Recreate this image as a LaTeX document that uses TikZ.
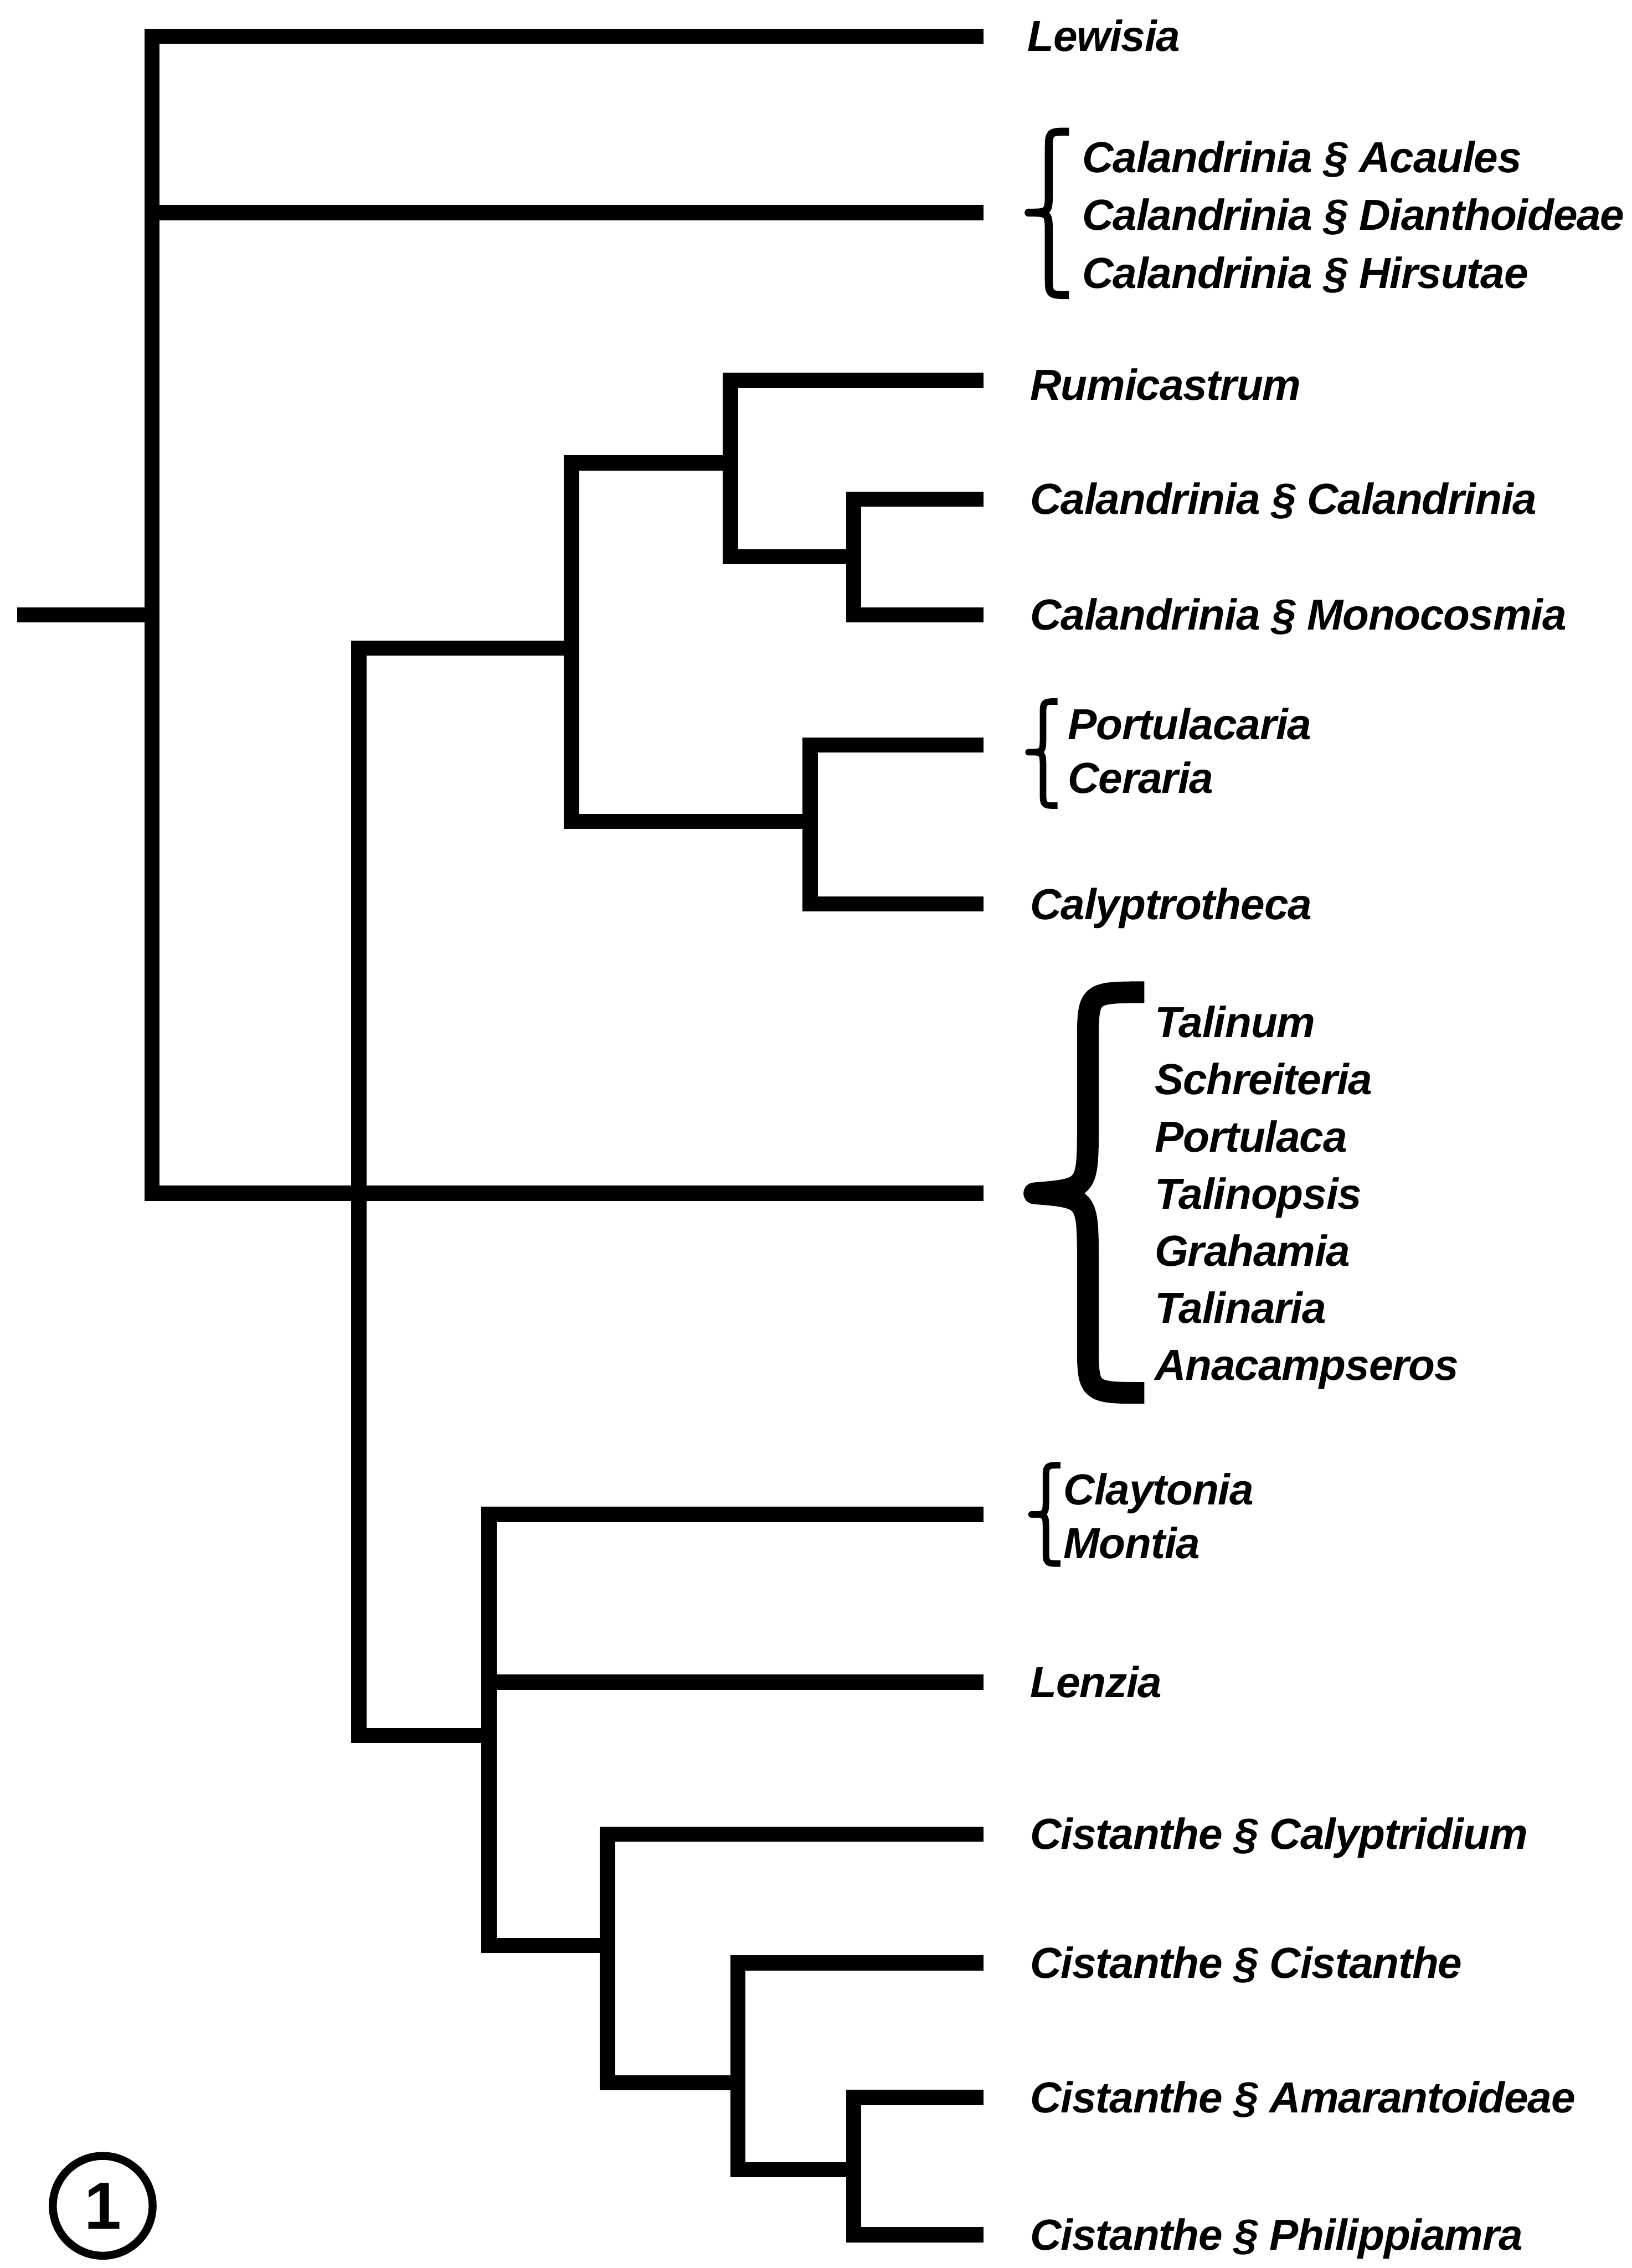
\documentclass[tikz,border=0pt]{standalone}
\usepackage{fontspec}
\setmainfont{Liberation Sans}
\newfontfamily\taxfont{Liberation Sans}[LetterSpace=-1.5]
\usetikzlibrary{positioning}

\begin{document}
\begin{tikzpicture}[x=1pt,y=-1pt,
      br/.style={line width=10.5pt, line cap=butt, line join=miter},
      taxon/.style={inner sep=0pt, anchor=west, align=left, text height=21pt, text depth=0pt,
                    font=\fontsize{30}{40}\taxfont\bfseries\itshape},
      grp/.style={inner sep=0pt, anchor=west, align=left,
                  font=\fontsize{30}{40}\taxfont\bfseries\itshape},
      curl/.style={line width=#1, line cap=butt, line join=round}]
    \useasboundingbox (0,0) rectangle (1128,1568);

    % internal nodes of the tree
    \coordinate (root) at (12,425);
    \coordinate (n0) at (105,425);
    \coordinate (n1) at (248,825);
    \coordinate (a) at (395,448);
    \coordinate (a1) at (505,320);
    \coordinate (a1b) at (590,385);
    \coordinate (a2) at (560,568);
    \coordinate (b) at (338,1200);
    \coordinate (b2) at (420,1345);
    \coordinate (b3) at (510,1440);
    \coordinate (b4) at (590,1500);

    % branch tips
    \coordinate (t-lew) at (680,25);
    \coordinate (t-cal) at (680,147);
    \coordinate (t-rum) at (680,263);
    \coordinate (t-calc) at (680,345);
    \coordinate (t-mon) at (680,425);
    \coordinate (t-por) at (680,515);
    \coordinate (t-caly) at (680,625);
    \coordinate (t-tal) at (680,825);
    \coordinate (t-cla) at (680,1047);
    \coordinate (t-len) at (680,1163);
    \coordinate (t-cis1) at (680,1268);
    \coordinate (t-cis2) at (680,1357);
    \coordinate (t-cis3) at (680,1450);
    \coordinate (t-cis4) at (680,1545);

    % labels
    \node[taxon, right=30pt of t-lew] (lew) {Lewisia};
    \node[grp, right=68pt of t-cal, yshift=-3pt] (cal) {Calandrinia § Acaules\\ Calandrinia § Dianthoideae\\ Calandrinia § Hirsutae};
    \node[taxon, right=32pt of t-rum, yshift=-3pt] (rum) {Rumicastrum};
    \node[taxon, right=32pt of t-calc] (calc) {Calandrinia § Calandrinia};
    \node[taxon, right=32pt of t-mon] (mon) {Calandrinia § Monocosmia};
    \node[grp, right=58pt of t-por, yshift=-4pt, font=\fontsize{30}{37}\taxfont\bfseries\itshape] (por) {Portulacaria\\ Ceraria};
    \node[taxon, right=32pt of t-caly] (caly) {Calyptrotheca};
    \node[grp, right=118pt of t-tal, yshift=-3pt, font=\fontsize{30}{39.5}\taxfont\bfseries\itshape] (tal) {Talinum\\ Schreiteria\\ Portulaca\\ Talinopsis\\ Grahamia\\ Talinaria\\ Anacampseros};
    \node[grp, right=55pt of t-cla, yshift=-1pt, font=\fontsize{30}{37}\taxfont\bfseries\itshape] (cla) {Claytonia\\ Montia};
    \node[taxon, right=32pt of t-len] (len) {Lenzia};
    \node[taxon, right=32pt of t-cis1] (cis1) {Cistanthe § Calyptridium};
    \node[taxon, right=32pt of t-cis2] (cis2) {Cistanthe § Cistanthe};
    \node[taxon, right=32pt of t-cis3] (cis3) {Cistanthe § Amarantoideae};
    \node[taxon, right=32pt of t-cis4] (cis4) {Cistanthe § Philippiamra};

    % braces
    \draw[curl=5.5pt] (739,91) .. controls (725,91) .. (725,104) -- (725,132)
        .. controls (725,147) .. (711,147) .. controls (725,147) .. (725,162)
        -- (725,191) .. controls (725,204) .. (739,204);
    \draw[curl=4.5pt] (731,485) .. controls (721,485) .. (721,495) -- (721,509)
        .. controls (721,520) .. (711,520) .. controls (721,520) .. (721,531)
        -- (721,547) .. controls (721,557) .. (731,557);
    \draw[curl=15pt] (791,686) .. controls (752,686) .. (752,722) -- (752,777)
        .. controls (752,822) .. (715,825) .. controls (752,828) .. (752,873)
        -- (752,928) .. controls (752,963) .. (791,963);
    \draw[curl=4.5pt] (733,1013) .. controls (723,1013) .. (723,1023) -- (723,1036)
        .. controls (723,1047) .. (713,1047) .. controls (723,1047) .. (723,1058)
        -- (723,1071) .. controls (723,1081) .. (733,1081);

    % branches
    \draw[br] (root) -- (n0);
    \draw[br] (n0) |- (t-lew);
    \draw[br] (n0) |- (t-cal);
    \draw[br] (n0) |- (n1) -- (t-tal);
    \draw[br] (n1) |- (a);
    \draw[br] (n1) |- (b);
    \draw[br] (a) |- (a1);
    \draw[br] (a) |- (a2);
    \draw[br] (a1) |- (t-rum);
    \draw[br] (a1) |- (a1b);
    \draw[br] (a1b) |- (t-calc);
    \draw[br] (a1b) |- (t-mon);
    \draw[br] (a2) |- (t-por);
    \draw[br] (a2) |- (t-caly);
    \draw[br] (b) |- (t-cla);
    \draw[br] (b) |- (t-len);
    \draw[br] (b) |- (b2);
    \draw[br] (b2) |- (t-cis1);
    \draw[br] (b2) |- (b3);
    \draw[br] (b3) |- (t-cis2);
    \draw[br] (b3) |- (b4);
    \draw[br] (b4) |- (t-cis3);
    \draw[br] (b4) |- (t-cis4);

    % figure number
    \node[circle, draw, line width=5.5pt, minimum size=69pt, inner sep=0pt,
          font=\fontsize{46}{46}\selectfont\bfseries] (fig) at (71,1525) {1};
  \end{tikzpicture}
\end{document}
